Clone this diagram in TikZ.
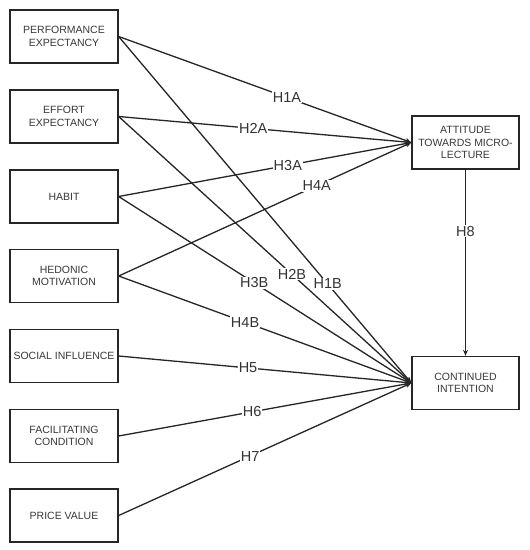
\documentclass[tikz,border=0pt]{standalone}
\usepackage{fontspec}
\setmainfont{Liberation Sans}
\usetikzlibrary{arrows.meta}
\begin{document}
\begin{tikzpicture}[x=1pt,y=-1pt,
  box/.style={draw=black!85, line width=1.3pt, minimum width=108pt, minimum height=53pt,
    align=center, font=\fontsize{10.5}{12.6}\selectfont, text=black!78, inner sep=1pt},
  rbox/.style={box, minimum width=107pt},
  conn/.style={line width=1.3pt, draw=black!85, -{Stealth[length=6pt,width=5pt]}},
  lab/.style={fill=white, font=\fontsize{14.5}{16}\selectfont, text=black!80, inner sep=1pt}]
\useasboundingbox[fill=white] (0,0) rectangle (530,550);
\node[box] (pe) at (64,36.5) {PERFORMANCE\\EXPECTANCY};
\node[box] (ee) at (64,116.5) {EFFORT\\EXPECTANCY};
\node[box] (hb) at (64,196.5) {HABIT};
\node[box] (hm) at (64,276) {HEDONIC\\MOTIVATION};
\node[box] (si) at (64,356) {SOCIAL INFLUENCE};
\node[box] (fc) at (64,436) {FACILITATING\\CONDITION};
\node[box] (pv) at (64,515.5) {PRICE VALUE};
\node[rbox] (att) at (465.5,142.5) {ATTITUDE\\TOWARDS MICRO-\\LECTURE};
\node[rbox] (ci) at (465.5,383) {CONTINUED\\INTENTION};

\draw[conn] (pe.east) -- node[lab, pos=0.575] {H1A} (att.west);
\draw[conn] (ee.east) -- node[lab, pos=0.46] {H2A} (att.west);
\draw[conn] (hb.east) -- node[lab, pos=0.578] {H3A} (att.west);
\draw[conn] (hm.east) -- node[lab, pos=0.677] {H4A} (att.west);
\draw[conn] (pe.east) -- node[lab, pos=0.714] {H1B} (ci.west);
\draw[conn] (ee.east) -- node[lab, pos=0.592] {H2B} (ci.west);
\draw[conn] (hb.east) -- node[lab, pos=0.463] {H3B} (ci.west);
\draw[conn] (hm.east) -- node[lab, pos=0.432] {H4B} (ci.west);
\draw[conn] (si.east) -- node[lab, pos=0.442] {H5} (ci.west);
\draw[conn] (fc.east) -- node[lab, pos=0.456] {H6} (ci.west);
\draw[conn] (pv.east) -- node[lab, pos=0.449] {H7} (ci.west);
\draw[conn] (att.south) -- node[lab, pos=0.33] {H8} (ci.north);
\end{tikzpicture}
\end{document}
